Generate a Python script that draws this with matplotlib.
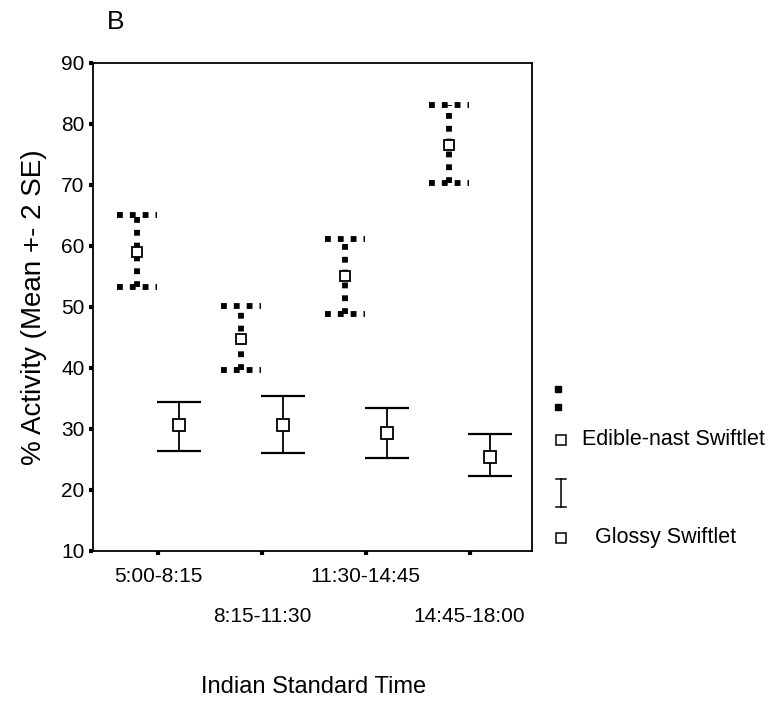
import numpy as np
import matplotlib
matplotlib.use("Agg")
import matplotlib.pyplot as plt
from matplotlib.lines import Line2D

plt.rcParams['font.family'] = ['Liberation Sans', 'DejaVu Sans']

periods = ['5:00-8:15', '8:15-11:30', '11:30-14:45', '14:45-18:00']

edible_mean = [59.0, 44.8, 55.0, 76.5]
edible_low = [53.3, 39.6, 48.8, 70.4]
edible_high = [65.1, 50.2, 61.2, 83.1]

glossy_mean = [30.6, 30.6, 29.3, 25.4]
glossy_low = [26.4, 26.1, 25.2, 22.3]
glossy_high = [34.4, 35.4, 33.4, 29.1]

W, H = 772, 702
fig = plt.figure(figsize=(W / 100, H / 100), dpi=100)
ax = fig.add_axes([93 / W, 1 - 551 / H, (532 - 93) / W, (551 - 63) / H])

x = np.arange(1, len(periods) + 1)
off = 0.2

# Edible-nest swiftlet: dotted bars
xe = x - off
dot = dict(color='black', linewidth=4.2, linestyle=(0, (1, 1.2)))
ax.vlines(xe, edible_low, edible_high, **dot)
ax.hlines(edible_high, xe - 0.19, xe + 0.19, **dot)
ax.hlines(edible_low, xe - 0.19, xe + 0.19, **dot)
ax.plot(xe, edible_mean, linestyle='none', marker='s', markersize=7,
        markerfacecolor='white', markeredgecolor='black', markeredgewidth=1.3, zorder=3)

# Glossy swiftlet: solid bars
xg = x + off
g_mean = np.array(glossy_mean)
yerr = [g_mean - np.array(glossy_low), np.array(glossy_high) - g_mean]
ax.errorbar(xg, g_mean, yerr=yerr, fmt='none', ecolor='black', elinewidth=1.3,
            capsize=16, capthick=1.6)
ax.plot(xg, g_mean, linestyle='none', marker='s', markersize=8,
        markerfacecolor='white', markeredgecolor='black', markeredgewidth=1.3, zorder=3)

ax.set_xlim(0.375, 4.6)
ax.set_ylim(10, 90)
ax.set_yticks(range(10, 91, 10))
ax.set_xticks(x)
ax.set_xticklabels([])
for s in ax.spines.values():
    s.set_linewidth(1.3)
ax.tick_params(direction='out', length=3, width=3, labelsize=15, pad=3)

# staggered category labels
for i, lab in enumerate(periods):
    yy = -0.033 if i % 2 == 0 else -0.114
    ax.text(x[i], yy, lab, transform=ax.get_xaxis_transform(), ha='center', va='top',
            fontsize=15)

ax.set_ylabel('% Activity (Mean +- 2 SE)', fontsize=20, labelpad=10)

def fx(px):
    return px / W

def fy(py):
    return 1 - py / H

fig.text(fx(314), fy(687), 'Indian Standard Time', fontsize=17, ha='center', va='center')
fig.text(fx(107), fy(22), 'B', fontsize=19, ha='left', va='center')

# legend drawn by hand at the right
fig.add_artist(Line2D([fx(558), fx(558)], [fy(389), fy(407)], marker='s', markersize=4.5,
                      color='black', linestyle='none'))
fig.add_artist(Line2D([fx(561)], [fy(440)], marker='s', markersize=7,
                      markerfacecolor='white', markeredgecolor='black',
                      markeredgewidth=1.1, linestyle='none'))
fig.text(fx(582), fy(440), 'Edible-nast Swiftlet', fontsize=15.5, ha='left', va='center')
fig.add_artist(Line2D([fx(561), fx(561)], [fy(479), fy(507)], color='black', linewidth=1.1))
fig.add_artist(Line2D([fx(556), fx(566)], [fy(479), fy(479)], color='black', linewidth=1.1))
fig.add_artist(Line2D([fx(556), fx(566)], [fy(507), fy(507)], color='black', linewidth=1.1))
fig.add_artist(Line2D([fx(561)], [fy(538)], marker='s', markersize=7,
                      markerfacecolor='white', markeredgecolor='black',
                      markeredgewidth=1.1, linestyle='none'))
fig.text(fx(595), fy(538), 'Glossy Swiftlet', fontsize=15.5, ha='left', va='center')

fig.savefig('out.png', dpi=100)
